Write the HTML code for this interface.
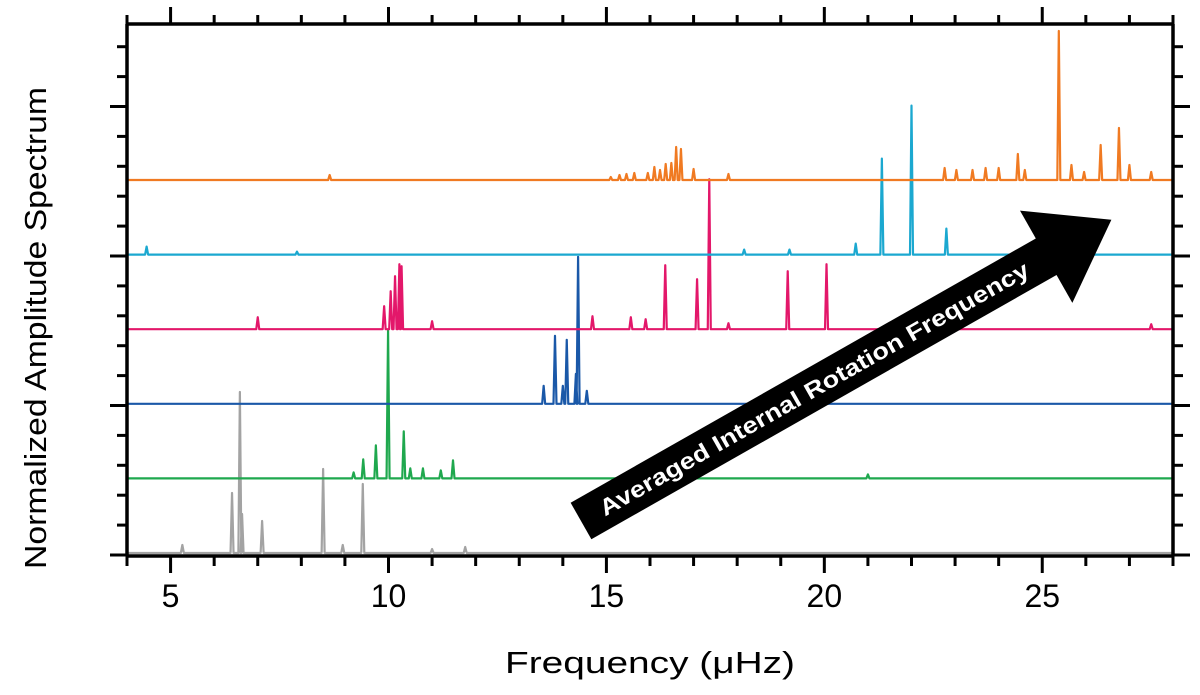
<!DOCTYPE html>
<html><head><meta charset="utf-8"><style>
html,body{margin:0;padding:0;background:#fff;}
svg{display:block;font-family:"Liberation Sans",sans-serif;}
</style></head><body>
<svg id="chart" width="1200" height="695" viewBox="0 0 1200 695">
<g id="series"></g>
<g id="axes"></g>
<g transform="translate(581,521) rotate(-29.6)">
<rect x="0" y="-21" width="537" height="42" fill="#000"/>
<polygon points="535,-53 535,53 610,0" fill="#000"/>
<text x="268" y="8" text-anchor="middle" font-size="23" font-weight="bold" fill="#fff" textLength="490" lengthAdjust="spacingAndGlyphs">Averaged Internal Rotation Frequency</text>
</g>
<text x="650" y="673" text-anchor="middle" font-size="31" fill="#000" textLength="290" lengthAdjust="spacingAndGlyphs">Frequency (μHz)</text>
<text transform="translate(46,328) rotate(-90)" text-anchor="middle" font-size="31" fill="#000" textLength="482" lengthAdjust="spacingAndGlyphs">Normalized Amplitude Spectrum</text>
</svg>
<script>
const xTicks=[5,10,15,20,25];
const seriesNames=['gray','green','blue','pink','cyan','orange'];
const seriesColors=['#a3a3a3','#1fa84e','#1a58a8','#e3176a','#1ba8d0','#f07a22'];
const seriesOffsets=[0,1,2,3,4,5];
const grayFreq=[5.27,6.41,6.59,6.64,7.1,8.5,8.95,9.41,11.0,11.76];
const grayAmp=[8,60,161,39,32,84,8,69,4,6];
const greenFreq=[9.2,9.42,9.71,9.99,10.35,10.5,10.79,11.2,11.48,21.0];
const greenAmp=[6,19,33,148,47,10,10,8,18,4];
const blueFreq=[13.56,13.82,14.0,14.09,14.3,14.35,14.55];
const blueAmp=[18,68,18,64,30,147,13];
const pinkFreq=[7.0,9.9,10.05,10.15,10.25,10.3,11.0,14.68,15.56,15.9,16.35,17.08,17.36,17.8,19.16,20.05,27.5];
const pinkAmp=[12,23,38,53,65,63,8,13,12,10,64,50,150,6,58,65,5];
const cyanFreq=[4.45,7.9,18.16,19.2,20.72,21.32,22.0,22.8];
const cyanAmp=[8,3,5,5,11,96,149,26];
const orangeFreq=[8.65,15.1,15.3,15.46,15.64,15.95,16.1,16.23,16.36,16.49,16.6,16.71,17.0,17.8,22.76,23.03,23.4,23.7,24.0,24.44,24.6,25.38,25.67,25.96,26.34,26.76,27.0,27.5];
const orangeAmp=[5,3,5,6,7,7,13,10,16,17,33,31,11,6,12,10,10,12,12,26,10,149,15,8,35,52,15,8];

const allFreq=[grayFreq,greenFreq,blueFreq,pinkFreq,cyanFreq,orangeFreq];
const allAmp=[grayAmp,greenAmp,blueAmp,pinkAmp,cyanAmp,orangeAmp];

const X0=127,X1=1173,Y0=24,Y1=556;
const F0=4,F1=28;
function xs(f){return X0+(f-F0)/(F1-F0)*(X1-X0);}
function ybase(k){return 553-k*74.6;}
function ya(k,a){return ybase(k)-a;}
const NS='http://www.w3.org/2000/svg';
const sg=document.getElementById('series');
for(let i=0;i<seriesNames.length;i++){
  const k=seriesOffsets[i];
  const idx=allFreq[i].map((f,j)=>j).sort((a,b)=>allFreq[i][a]-allFreq[i][b]);
  let d='M'+xs(F0)+','+ybase(k);
  idx.forEach(j=>{
    const x=xs(allFreq[i][j]);
    d+=' L'+(x-1.5)+','+ybase(k)+' L'+x+','+ya(k,allAmp[i][j])+' L'+(x+1.5)+','+ybase(k);
  });
  d+=' L'+xs(F1)+','+ybase(k);
  const p=document.createElementNS(NS,'path');
  p.setAttribute('d',d);
  p.setAttribute('fill','none');
  p.setAttribute('stroke',seriesColors[i]);
  p.setAttribute('stroke-width','2.2');
  p.setAttribute('stroke-linejoin','round');
  
  
  sg.appendChild(p);
}
const ag=document.getElementById('axes');
function line(x1,y1,x2,y2,w,name){
  const l=document.createElementNS(NS,'line');
  l.setAttribute('x1',x1);l.setAttribute('y1',y1);l.setAttribute('x2',x2);l.setAttribute('y2',y2);
  l.setAttribute('stroke','#000');l.setAttribute('stroke-width',w);
  
  
  ag.appendChild(l);
}
line(X0-1.5,Y1,X1+1.5,Y1,3.5,'x-axis-bottom');
line(X0-1.5,Y0,X1+1.5,Y0,3.5,'x-axis-top');
line(X0,Y0,X0,Y1,3.5,'y-axis-left');
line(X1,Y0,X1,Y1,3.5,'y-axis-right');
for(let f=F0;f<=F1;f++){
  const major=f%5===0;
  const x=xs(f);
  line(x,Y1,x,Y1+(major?17:10),3,'x-tick-bottom');
  line(x,Y0,x,Y0-(major?17:9),3,'x-tick-top');
}
xTicks.forEach(v=>{
  const t=document.createElementNS(NS,'text');
  t.setAttribute('x',xs(v));t.setAttribute('y',607);
  t.setAttribute('text-anchor','middle');t.setAttribute('font-size','32');
  t.textContent=v;
  
  
  ag.appendChild(t);
});
for(let k=0;k<18;k++){
  const y=555-k*29.9;
  if(y<Y0+5)break;
  const major=k%5===0;
  line(X0,y,X0-(major?17:10),y,3,'y-tick-left');
  line(X1,y,X1+(major?17:10),y,3,'y-tick-right');
}
</script>
</body></html>
